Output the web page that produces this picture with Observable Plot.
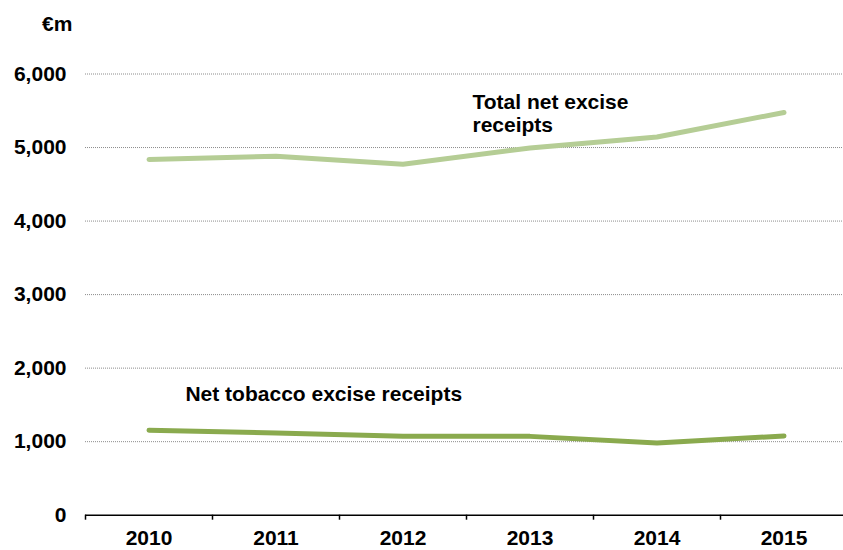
<!DOCTYPE html>
<html><head><meta charset="utf-8">
<script src="https://cdn.jsdelivr.net/npm/d3@7"></script>
<script src="https://cdn.jsdelivr.net/npm/@observablehq/plot@0.6"></script>
<style>body{margin:0;background:#fff;}</style>
</head><body><div id="chart"></div>
<script>
const years = ["2010", "2011", "2012", "2013", "2014", "2015"];
const totalNet = [4837, 4881, 4772, 4995, 5144, 5477];
const tobaccoNet = [1155, 1119, 1074, 1072, 983, 1078];
const yTicks = [0, 1000, 2000, 3000, 4000, 5000, 6000];
const seriesLabels = ["Total net excise\nreceipts", "Net tobacco excise receipts"];
const unitLabel = "€m";

const rows = years.map((y, i) => ({i, year: y, total: totalNet[i], tobacco: tobaccoNet[i]}));
const idx = years.map((_, i) => i);
const edges = d3.range(-0.5, years.length, 1);
const font = "'Liberation Sans', Arial, sans-serif";

const chart = Plot.plot({
  width: 843,
  height: 550,
  marginLeft: 85,
  marginRight: 0,
  marginTop: 73.5,
  marginBottom: 35.3,
  style: {fontFamily: font, fontSize: "21px", fontWeight: "bold", color: "#000", background: "#fff"},
  x: {type: "linear", domain: [-0.5, years.length - 0.5], range: [85, 847]},
  y: {domain: [0, 6000]},
  marks: [
    Plot.ruleY(yTicks.filter(d => d > 0), {stroke: "#8c8c8c", strokeWidth: 1, strokeDasharray: "1,1"}),
    Plot.axisY(yTicks, {tickSize: 0, tickPadding: 19, tickFormat: d3.format(","), label: null, fontSize: 21, fontWeight: "bold"}),
    Plot.axisX(edges, {tickSize: 5, tickFormat: () => "", label: null, stroke: "#000", strokeWidth: 1.5}),
    Plot.axisX(idx, {tickSize: 0, tickPadding: 15, tickFormat: i => years[i], label: null, fontSize: 21, fontWeight: "bold"}),
    Plot.ruleY([0], {stroke: "#000", strokeWidth: 1.5}),
    Plot.line(rows, {x: "i", y: "total", stroke: "#b5cd95", strokeWidth: 5, strokeLinecap: "round", strokeLinejoin: "round"}),
    Plot.line(rows, {x: "i", y: "tobacco", stroke: "#8aaa4e", strokeWidth: 5, strokeLinecap: "round", strokeLinejoin: "round"}),
    Plot.text([seriesLabels[0]], {x: 2.547, y: 5472, text: d => d, textAnchor: "start", lineAnchor: "middle", lineHeight: 1.13, fontSize: 21, fontWeight: "bold", fill: "#000"}),
    Plot.text([seriesLabels[1]], {x: 0.287, y: 1645, text: d => d, textAnchor: "start", lineAnchor: "middle", fontSize: 21, fontWeight: "bold", fill: "#000"}),
    Plot.text([unitLabel], {frameAnchor: "top-left", dx: -28.3, dy: -50.2, text: d => d, textAnchor: "middle", lineAnchor: "middle", fontSize: 21, fontWeight: "bold", fill: "#000"})
  ]
});
document.getElementById("chart").appendChild(chart);
</script>
</body></html>
